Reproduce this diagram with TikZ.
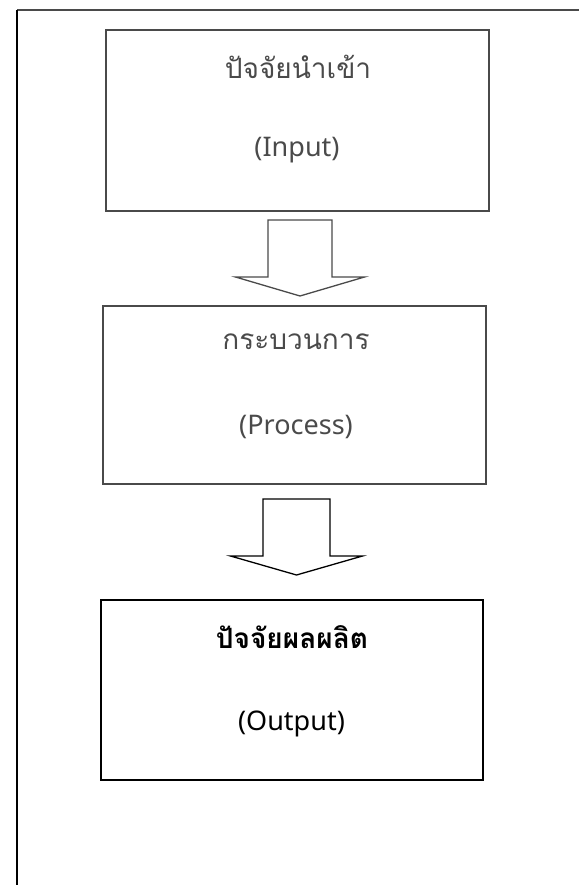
\documentclass[tikz,border=0pt]{standalone}
\usepackage{fontspec}
\setmainfont{Noto Sans}
\newfontfamily\thaifont[Script=Thai]{Loma}
\definecolor{fadegray}{HTML}{4A4A4A}
\begin{document}
\begin{tikzpicture}[x=1pt,y=-1pt,
  box/.style={draw, line width=1.4pt, rectangle, inner sep=0pt},
  lbl/.style={font=\fontsize{27}{32}\selectfont, inner sep=0pt, anchor=center},
  thlbl/.style={font=\thaifont\fontsize{28}{32}\selectfont, inner sep=0pt, anchor=center},
  pics/blockarrow/.style={code={
    \draw[line width=1.3pt, line join=miter, fill=white]
      (-#1,0) -- (#1,0) -- (#1,57) -- (#1+32.5,57) -- (0,76) -- (-#1-32.5,57) -- (-#1,57) -- cycle;
  }}]
\useasboundingbox (0,0) rectangle (579,885);
% frame lines
\coordinate (tl) at (17,10);
\coordinate (tr) at (579,10);
\coordinate (bl) at (17,885);
\draw[fadegray, line width=1.2pt] (tl) -- (tr);
\draw[black, line width=1.6pt] (tl) -- (bl);
% boxes
\node[box, draw=fadegray, minimum width=383pt, minimum height=181pt] (b1) at (297.5,120.5) {};
\node[box, draw=fadegray, minimum width=383pt, minimum height=178pt] (b2) at (294.5,395) {};
\node[box, draw=black, line width=1.8pt, minimum width=382pt, minimum height=180pt] (b3) at (292,690) {};
% texts
\node[thlbl, text=fadegray] (t1a) at (298,67) {ปัจจัยนำเข้า};
\node[lbl, text=fadegray] (t1b) at (297,150) {(Input)};
\node[thlbl, text=fadegray] (t2a) at (296,342) {กระบวนการ};
\node[lbl, text=fadegray] (t2b) at (296,427) {(Process)};
\node[thlbl, text=black, font=\thaifont\bfseries\fontsize{28}{32}\selectfont] (t3a) at (292,637) {ปัจจัยผลผลิต};
\node[lbl, text=black] (t3b) at (291.5,724) {(Output)};
% block arrows
\coordinate (a1) at (300,220);
\coordinate (a2) at (296.5,499);
\pic[draw=fadegray, fadegray] at (a1) {blockarrow=32};
\pic at (a2) {blockarrow=33.5};
\end{tikzpicture}
\end{document}
